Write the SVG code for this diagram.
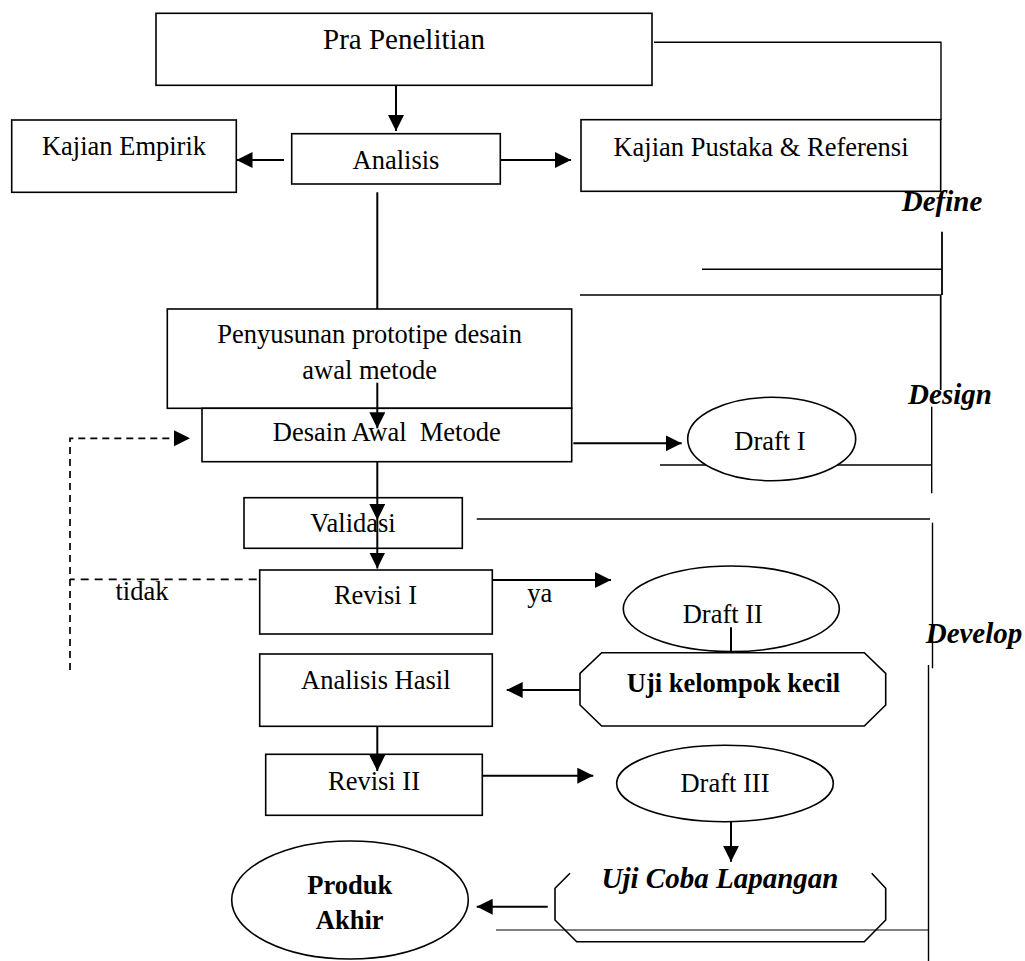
<svg xmlns="http://www.w3.org/2000/svg" width="1025" height="961" viewBox="0 0 1025 961">
<style>
  .box { fill: #fff; stroke: #000; stroke-width: 1.6; }
  .oct { fill: #fff; stroke: #000; stroke-width: 1.6; }
  .open { fill: none; stroke: #000; stroke-width: 1.6; }
  .t { font-family: "Liberation Serif", "Times New Roman", serif; font-size: 26.5px; fill: #000; text-anchor: middle; }
  .b { font-weight: bold; }
  .bi { font-weight: bold; font-style: italic; font-size: 29px; }
  .big { font-size: 29px; }
  .arr { stroke: #000; stroke-width: 2; fill: none; marker-end: url(#ah); }
  .ln { stroke: #000; stroke-width: 2; fill: none; }
  .br { stroke: #000; stroke-width: 1.4; fill: none; }
  .dash { stroke: #000; stroke-width: 1.7; fill: none; stroke-dasharray: 8 6; }
</style>
<defs>
  <marker id="ah" viewBox="0 0 16 16" refX="16" refY="8" markerWidth="16" markerHeight="16" markerUnits="userSpaceOnUse" orient="auto">
    <path d="M0,0 L16,8 L0,16 z" fill="#000"/>
  </marker>
</defs>
<rect width="1025" height="961" fill="#fff"/>

<g id="phase-brackets">
  <polyline class="br" points="654,42.3 941,42.3 941,120"/>
  <line class="br" x1="942" y1="231.7" x2="942" y2="295" style="stroke-width:1.8"/>
  <line class="br" x1="702" y1="269.3" x2="942" y2="269.3"/>
  <polyline class="br" points="580,295 940.7,295 940.7,390" style="stroke-width:1.7"/>
  <line class="br" x1="931.7" y1="406.7" x2="931.7" y2="493.3"/>
  <line class="br" x1="660" y1="465" x2="931.7" y2="465"/>
  <line class="br" x1="476.7" y1="519" x2="930" y2="519"/>
  <line class="br" x1="932.5" y1="522.7" x2="932.5" y2="668.3"/>
  <line class="br" x1="928.5" y1="665" x2="928.5" y2="961"/>
  <line class="br" x1="496" y1="930" x2="928.5" y2="930" style="stroke-width:1.1"/>
</g>

<g id="phase-labels">
  <text class="t bi" x="942" y="210.5">Define</text>
  <text class="t bi" x="950" y="403.5">Design</text>
  <text class="t bi" x="974" y="643.3">Develop</text>
</g>

<g id="pra-penelitian">
  <rect class="box" x="156" y="13.3" width="496" height="72"/>
  <text class="t big" x="404" y="49">Pra Penelitian</text>
</g>
<g id="kajian-empirik">
  <rect class="box" x="11.7" y="120" width="224.6" height="72.3"/>
  <text class="t" x="124" y="155">Kajian Empirik</text>
</g>
<g id="analisis">
  <rect class="box" x="291.7" y="133.7" width="208.6" height="50.3"/>
  <text class="t" x="396" y="169">Analisis</text>
</g>
<g id="kajian-pustaka">
  <rect class="box" x="581" y="119.7" width="359.7" height="71.6"/>
  <text class="t" x="761" y="156">Kajian Pustaka &amp; Referensi</text>
</g>
<g id="penyusunan">
  <rect class="box" x="167.3" y="309" width="404.4" height="99.3"/>
  <text class="t" x="369.6" y="343.3">Penyusunan prototipe desain</text>
  <text class="t" x="369.6" y="379.3">awal metode</text>
</g>
<g id="desain-awal">
  <rect class="box" x="202" y="408.3" width="369.7" height="53.4"/>
  <text class="t" x="386.8" y="440.7" xml:space="preserve">Desain Awal  Metode</text>
</g>
<g id="draft-1">
  <ellipse class="box" cx="771.7" cy="439" rx="84" ry="41.7"/>
  <text class="t" x="770" y="450">Draft I</text>
</g>
<g id="validasi">
  <rect class="box" x="244" y="497.7" width="218.3" height="50.6"/>
  <text class="t" x="353" y="532.3">Validasi</text>
</g>
<g id="revisi-1">
  <rect class="box" x="259.7" y="570" width="232.6" height="64"/>
  <text class="t" x="375.5" y="604">Revisi I</text>
</g>
<g id="draft-2">
  <ellipse class="box" cx="731.3" cy="608.8" rx="108" ry="42.8"/>
  <text class="t" x="722.8" y="622.7">Draft II</text>
</g>
<g id="analisis-hasil">
  <rect class="box" x="259.7" y="654" width="232.6" height="72.3"/>
  <text class="t" x="375.8" y="689">Analisis Hasil</text>
</g>
<g id="uji-kelompok-kecil">
  <polygon class="oct" points="601.7,652.7 864.3,652.7 885.7,673.3 885.7,705 864.3,726 601.7,726 580,705 580,673.3"/>
  <text class="t b" x="733.5" y="691.7">Uji kelompok kecil</text>
</g>
<g id="revisi-2">
  <rect class="box" x="265.7" y="754.3" width="216.6" height="61"/>
  <text class="t" x="374" y="790">Revisi II</text>
</g>
<g id="draft-3">
  <ellipse class="box" cx="725" cy="783.5" rx="108.3" ry="38.2"/>
  <text class="t" x="725" y="791.7">Draft III</text>
</g>
<g id="uji-coba-lapangan">
  <polyline class="open" points="570,873.3 555,888.3 555,920 576.7,941.7 864.3,941.7 885.7,920 885.7,888.3 871.7,873.3"/>
  <text class="t bi" x="720" y="888.3">Uji Coba Lapangan</text>
</g>
<g id="produk-akhir">
  <ellipse class="box" cx="350" cy="900" rx="118.3" ry="59"/>
  <text class="t b" x="349.7" y="894">Produk</text>
  <text class="t b" x="349.7" y="929">Akhir</text>
</g>

<g id="connectors">
  <line class="arr" x1="396" y1="85.3" x2="396" y2="131"/>
  <line class="arr" x1="284" y1="160" x2="236.5" y2="160"/>
  <line class="arr" x1="500.3" y1="160" x2="571" y2="160"/>
  <line class="ln" x1="377.3" y1="192.3" x2="377.3" y2="309"/>
  <line class="arr" x1="377.3" y1="382.7" x2="377.3" y2="428.3"/>
  <line class="arr" x1="573.3" y1="443.3" x2="681.7" y2="443.3"/>
  <line class="arr" x1="377.3" y1="461.7" x2="377.3" y2="520"/>
  <line class="arr" x1="377.3" y1="520" x2="377.3" y2="568.5"/>
  <polyline class="dash" points="256.7,579.3 70,579.3"/>
  <polyline class="dash" points="70,670 70,438.3 174,438.3" style="stroke-dasharray:7 5"/>
  <path d="M174,430.3 L190,438.3 L174,446.3 z" fill="#000"/>
  <line class="arr" x1="492.3" y1="580" x2="611" y2="580"/>
  <line class="ln" x1="731" y1="627.3" x2="731" y2="652.7"/>
  <line class="arr" x1="580" y1="690" x2="506.7" y2="690"/>
  <line class="arr" x1="377.3" y1="726.3" x2="377.3" y2="771"/>
  <line class="arr" x1="482.3" y1="775.7" x2="593.3" y2="775.7"/>
  <line class="arr" x1="731" y1="821.7" x2="731" y2="861.7"/>
  <line class="arr" x1="547.7" y1="906.7" x2="476.7" y2="906.7"/>
</g>

<g id="edge-labels">
  <text class="t" x="142" y="600">tidak</text>
  <text class="t" x="539.7" y="601.7">ya</text>
</g>
</svg>
